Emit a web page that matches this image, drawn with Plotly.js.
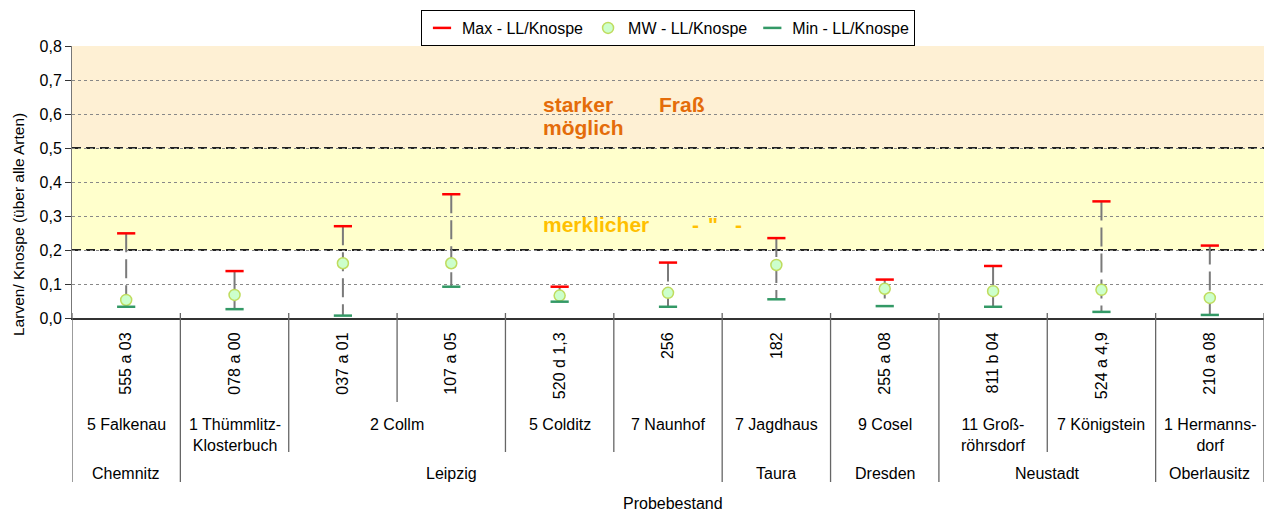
<!DOCTYPE html>
<html>
<head>
<meta charset="utf-8">
<script src="https://cdn.plot.ly/plotly-3.0.1.min.js"></script>
<style>html,body{margin:0;padding:0;background:#fff;}#chart{width:1265px;height:511px;}</style>
</head>
<body>
<div id="chart"></div>
<script>
// ---- data ----
const stands = ["555 a 03","078 a 00","037 a 01","107 a 05","520 d 1,3","256","182","255 a 08","811 b 04","524 a 4,9","210 a 08"];
const maxValues = [0.249,0.138,0.270,0.364,0.092,0.163,0.235,0.113,0.153,0.343,0.213];
const meanValues = [0.053,0.068,0.161,0.161,0.066,0.074,0.156,0.086,0.079,0.083,0.059];
const minValues = [0.033,0.026,0.007,0.092,0.048,0.033,0.055,0.035,0.033,0.018,0.009];
const locations = ["5 Falkenau","1 Thümmlitz-<br>Klosterbuch","2 Collm","5 Colditz","7 Naunhof","7 Jagdhaus","9 Cosel","11 Groß-<br>röhrsdorf","7 Königstein","1 Hermanns-<br>dorf"];
const locationSpans = [1,1,2,1,1,1,1,1,1,1];
const regions = ["Chemnitz","Leipzig","Taura","Dresden","Neustadt","Oberlausitz"];
const regionSpans = [1,5,1,1,2,1];
const yTicks = [0,0.1,0.2,0.3,0.4,0.5,0.6,0.7,0.8];

const FONT = "Liberation Sans, Arial, sans-serif";

// range line (min to max)
const lx = [], ly = [];
stands.forEach((s, i) => { lx.push(s, s, null); ly.push(maxValues[i], minValues[i], null); });

const traces = [
  {x: lx, y: ly, mode: "lines", type: "scatter", showlegend: false, hoverinfo: "skip",
   line: {color: "#7a7a7a", width: 2, dash: "19px,7px"}},
  {x: stands, y: maxValues, mode: "markers", type: "scatter", name: "Max - LL/Knospe",
   marker: {symbol: "line-ew", size: 13, line: {color: "#ff0000", width: 2.5}}},
  {x: stands, y: meanValues, mode: "markers", type: "scatter", name: "MW - LL/Knospe",
   marker: {symbol: "circle", size: 11, color: "#ccffcc", line: {color: "#bfdc5e", width: 1.5}}},
  {x: stands, y: minValues, mode: "markers", type: "scatter", name: "Min - LL/Knospe",
   marker: {symbol: "line-ew", size: 13, line: {color: "#339966", width: 2.5}}}
];

const shapes = [
  {type: "rect", xref: "paper", yref: "y", x0: 0, x1: 1, y0: 0.5, y1: 0.8, fillcolor: "#fef0d4", line: {width: 0}, layer: "below"},
  {type: "rect", xref: "paper", yref: "y", x0: 0, x1: 1, y0: 0.2, y1: 0.5, fillcolor: "#ffffcc", line: {width: 0}, layer: "below"},
  {type: "line", xref: "paper", yref: "y", x0: 0, x1: 1, y0: 0.2, y1: 0.2, line: {color: "#222", width: 2, dash: "9px,5px"}, layer: "below"},
  {type: "line", xref: "paper", yref: "y", x0: 0, x1: 1, y0: 0.5, y1: 0.5, line: {color: "#222", width: 2, dash: "9px,5px"}, layer: "below"}
];

// separator lines below the x axis
const PH = 272; // plot height px
const py = px => -(px) / PH; // px below axis -> paper
const topY = 5 / PH;
const locEnds = [], regEnds = [];
let acc = 0; locationSpans.forEach(s => { acc += s; locEnds.push(acc); });
acc = 0; regionSpans.forEach(s => { acc += s; regEnds.push(acc); });
for (let b = 0; b <= stands.length; b++) {
  let depth = 84;
  if (locEnds.includes(b)) depth = 134;
  if (b === 0 || regEnds.includes(b)) depth = 164;
  shapes.push({type: "line", xref: "x", yref: "paper", x0: b - 0.5, x1: b - 0.5, y0: topY, y1: py(depth),
    line: {color: "#666", width: 1.3}});
}

const annotations = [];
let start = 0;
locations.forEach((name, k) => {
  const c = start + locationSpans[k] / 2 - 0.5;
  annotations.push({xref: "x", yref: "paper", x: c, y: py(96), xanchor: "center", yanchor: "top",
    text: name, showarrow: false, font: {family: FONT, size: 16, color: "#000"}});
  start += locationSpans[k];
});
start = 0;
regions.forEach((name, k) => {
  const c = start + regionSpans[k] / 2 - 0.5;
  annotations.push({xref: "x", yref: "paper", x: c, y: py(155), xanchor: "center", yanchor: "middle",
    text: name, showarrow: false, font: {family: FONT, size: 16, color: "#000"}});
  start += regionSpans[k];
});
annotations.push({xref: "paper", yref: "paper", x: 0.504, y: py(185), xanchor: "center", yanchor: "middle",
  text: "Probebestand", showarrow: false, font: {family: FONT, size: 16, color: "#000"}});
annotations.push({xref: "paper", yref: "paper", x: -54 / 1192, y: 93 / PH, xanchor: "center", yanchor: "middle",
  textangle: -90, text: "Larven/ Knospe (über alle Arten)", showarrow: false, font: {family: FONT, size: 15.5, color: "#000"}});

const orange = "#e46c0a", gold = "#ffc000";
const tf = c => ({family: FONT, size: 21, color: c, weight: "bold"});
annotations.push({xref: "paper", yref: "y", x: (541 - 72) / 1192, y: 0.629, xanchor: "left", yanchor: "middle", text: "<b>starker</b>", showarrow: false, font: tf(orange)});
annotations.push({xref: "paper", yref: "y", x: (657 - 72) / 1192, y: 0.629, xanchor: "left", yanchor: "middle", text: "<b>Fraß</b>", showarrow: false, font: tf(orange)});
annotations.push({xref: "paper", yref: "y", x: (541 - 72) / 1192, y: 0.559, xanchor: "left", yanchor: "middle", text: "<b>möglich</b>", showarrow: false, font: tf(orange)});
annotations.push({xref: "paper", yref: "y", x: (541 - 72) / 1192, y: 0.274, xanchor: "left", yanchor: "middle", text: "<b>merklicher</b>", showarrow: false, font: tf(gold)});
annotations.push({xref: "paper", yref: "y", x: (690 - 72) / 1192, y: 0.274, xanchor: "left", yanchor: "middle", text: "<b>-</b>", showarrow: false, font: tf(gold)});
annotations.push({xref: "paper", yref: "y", x: (706 - 72) / 1192, y: 0.274, xanchor: "left", yanchor: "middle", text: "<b>\"</b>", showarrow: false, font: tf(gold)});
annotations.push({xref: "paper", yref: "y", x: (733 - 72) / 1192, y: 0.274, xanchor: "left", yanchor: "middle", text: "<b>-</b>", showarrow: false, font: tf(gold)});

const layout = {
  width: 1265, height: 511,
  margin: {l: 72, r: 1, t: 46, b: 193, pad: 0},
  paper_bgcolor: "#fff", plot_bgcolor: "rgba(0,0,0,0)",
  separators: ",.",
  font: {family: FONT, size: 16, color: "#000"},
  showlegend: true,
  legend: {orientation: "h", x: 0.5, xanchor: "center", y: 1 + 36 / PH, yanchor: "top",
    bordercolor: "#000", borderwidth: 1, bgcolor: "#fff", font: {family: FONT, size: 16}, itemwidth: 30},
  xaxis: {type: "category", range: [-0.5, stands.length - 0.5], showgrid: false, zeroline: false,
    showline: true, linecolor: "#333", linewidth: 2, ticks: "", tickangle: -90,
    tickfont: {family: FONT, size: 16, color: "#000"}, ticklabelstandoff: 6, fixedrange: true},
  yaxis: {range: [0, 0.8], tickvals: yTicks, tickformat: ".1f", ticks: "outside", ticklen: 6, tickcolor: "#333",
    showgrid: true, gridcolor: "#888", griddash: "dot", gridwidth: 1, zeroline: false,
    showline: true, linecolor: "#777", linewidth: 1, tickfont: {family: FONT, size: 16, color: "#000"}, fixedrange: true},
  shapes: shapes,
  annotations: annotations
};

Plotly.newPlot("chart", traces, layout, {displayModeBar: false, staticPlot: true});
</script>
</body>
</html>
